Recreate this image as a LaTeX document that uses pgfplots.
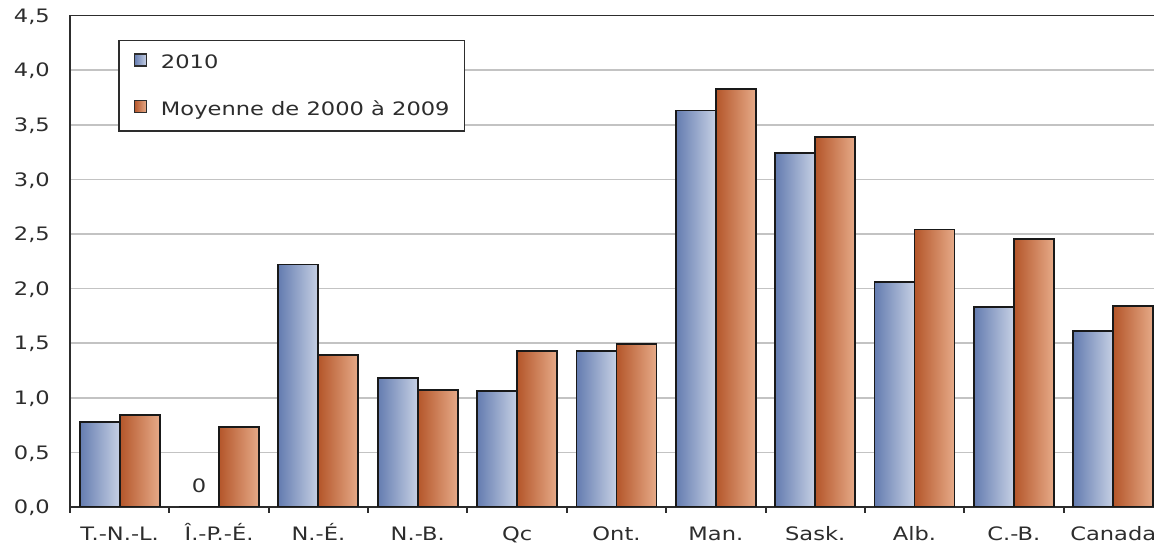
\documentclass[border=0pt]{standalone}
\usepackage{fontspec}
\setmainfont{DejaVu Sans}[FakeStretch=1.22]
\usepackage{pgfplots}
\pgfplotsset{compat=1.18}
\definecolor{txt}{RGB}{45,45,45}
\definecolor{bluedark}{RGB}{100,124,176}
\definecolor{bluelight}{RGB}{198,208,228}
\definecolor{ordark}{RGB}{180,86,42}
\definecolor{orlight}{RGB}{230,170,136}
\definecolor{gridc}{RGB}{195,195,195}
\definecolor{axc}{RGB}{45,45,45}
\pgfplotsset{
  bluebar/.style={ybar, bar width=40pt, bar shift=-20pt, draw=black!90, line width=1.8pt, left color=bluedark, right color=bluelight},
  orbar/.style={ybar, bar width=40pt, bar shift=20pt, draw=black!90, line width=1.8pt, left color=ordark, right color=orlight},
}
\newcommand{\bbar}[2]{\addplot[bluebar, forget plot] coordinates {(#1,#2)};}
\newcommand{\obar}[2]{\addplot[orbar, forget plot] coordinates {(#1,#2)};}
\newcommand{\fs}{\fontsize{18.5}{22}\selectfont}
\begin{document}
\begin{tikzpicture}
\begin{axis}[
  name=ax,
  scale only axis, width=1084pt, height=491.5pt,
  xmin=-0.5, xmax=10.41, ymin=0, ymax=4.5,
  axis x line*=bottom, axis y line*=left,
  axis line style={color=axc, line width=2pt},
  xtick={0,1,2,3,4,5,6,7,8,9,10},
  xticklabels={T.-N.-L., Î.-P.-É., N.-É., N.-B., Qc, Ont., Man., Sask., Alb., C.-B., Canada},
  minor xtick={-0.5,0.5,1.5,2.5,3.5,4.5,5.5,6.5,7.5,8.5,9.5},
  ytick={0,0.5,1,1.5,2,2.5,3,3.5,4,4.5},
  major tick length=0pt, minor tick length=6pt, tick align=outside,
  major tick style={draw=none},
  minor tick style={color=axc, line width=2pt},
  xtick pos=bottom, ytick pos=left,
  ymajorgrids, grid style={color=gridc, line width=1.6pt},
  /pgf/number format/.cd, use comma, fixed, fixed zerofill, precision=1, assume math mode=true,
  /pgfplots/.cd,
  yticklabel style={font=\fs, text=txt, inner sep=0pt, text height=13.5pt, text depth=0pt, anchor=east, xshift=-20pt},
  xticklabel style={font=\fs, text=txt, inner sep=0pt, text height=13.5pt, text depth=0pt, anchor=north, yshift=-20pt},
  legend style={at={(0.0443,0.951)}, anchor=north west, draw=axc, line width=1.5pt, fill=white,
    inner xsep=15pt, inner ysep=13pt, row sep=28pt,
    font=\fs, text=txt,
    nodes={inner sep=0pt, text height=13.5pt, text depth=3pt},
    /tikz/every odd column/.append style={column sep=14pt}},
  legend cell align=left,
  legend image code/.code={\draw[#1, line width=1.2pt, draw=axc] (0pt,-2.5pt) rectangle (12pt,9.5pt);},
]
\bbar{0}{0.78}  \obar{0}{0.84}
\bbar{1}{0}     \obar{1}{0.73}
\bbar{2}{2.22}  \obar{2}{1.39}
\bbar{3}{1.18}  \obar{3}{1.07}
\bbar{4}{1.06}  \obar{4}{1.43}
\bbar{5}{1.43}  \obar{5}{1.49}
\bbar{6}{3.63}  \obar{6}{3.83}
\bbar{7}{3.24}  \obar{7}{3.39}
\bbar{8}{2.06}  \obar{8}{2.54}
\bbar{9}{1.83}  \obar{9}{2.45}
\bbar{10}{1.61} \obar{10}{1.84}
\addlegendimage{bluebar}
\addlegendentry{2010}
\addlegendimage{orbar}
\addlegendentry{Moyenne de 2000 à 2009}
\draw[axc, line width=2pt] (rel axis cs:0,1) -- (rel axis cs:1,1);
\node[font=\fs, text=txt, anchor=south, inner sep=0pt] at (axis cs:0.8,0) [yshift=14pt] {0};
\end{axis}
\pgfresetboundingbox
\path ([xshift=-70pt,yshift=-39pt]ax.south west) rectangle ([yshift=15.5pt]ax.north east);
\end{tikzpicture}
\end{document}
